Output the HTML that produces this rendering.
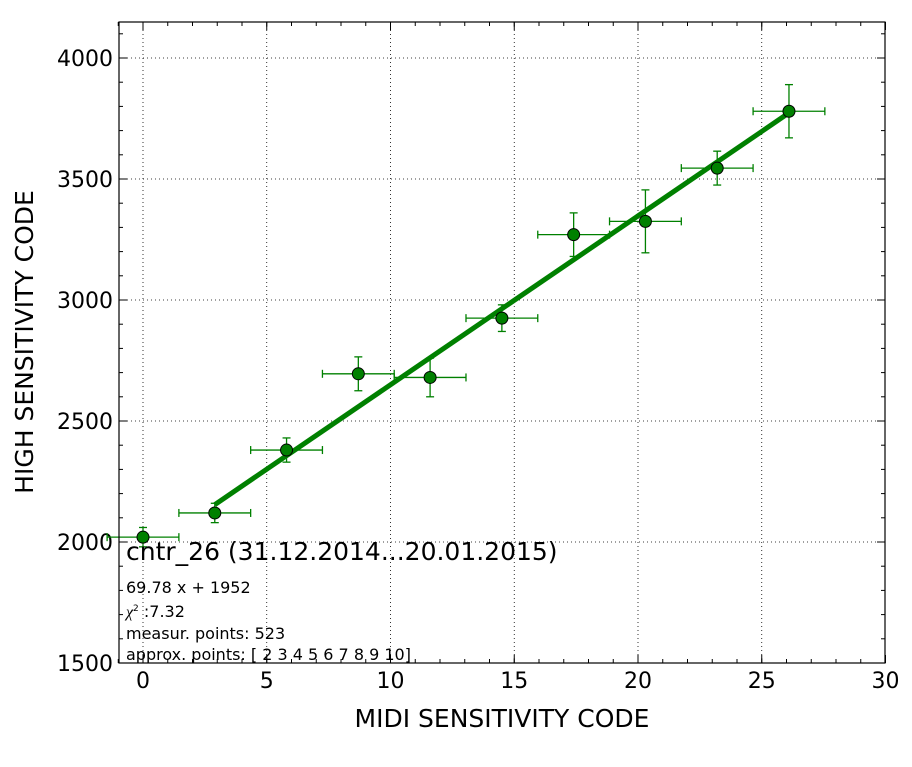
<!DOCTYPE html>
<html><head><meta charset="utf-8"><style>
body{margin:0;background:#fff}
svg{font-family:"DejaVu Sans","Liberation Sans",sans-serif}
</style></head><body>
<svg id="c" width="912" height="762" xmlns="http://www.w3.org/2000/svg">
<rect width="912" height="762" fill="#fff"/>
<g id="grid"></g><g id="ticks"></g><g id="marks"></g>
<rect x="119" y="22" width="766" height="641" fill="none" stroke="#000" stroke-width="1.2"/>
<text x="502" y="727" font-size="25" text-anchor="middle">MIDI SENSITIVITY CODE</text>
<text transform="translate(33,342) rotate(-90)" font-size="25" text-anchor="middle">HIGH SENSITIVITY CODE</text>
<g>
<text x="126" y="560" font-size="25">cntr_26 (31.12.2014...20.01.2015)</text>
<text x="126" y="593" font-size="16">69.78 x + 1952</text>
<text x="126" y="617" font-size="16"><tspan font-family="Liberation Serif" font-style="italic">χ</tspan><tspan font-size="9" dy="-6">2</tspan><tspan dy="6"> :7.32</tspan></text>
<text x="126" y="639" font-size="16">measur. points: 523</text>
<text x="126" y="660" font-size="16">approx. points: [ 2  3  4  5  6  7  8  9 10]</text>
</g>
</svg>
<script>
const xs=[0,2.9,5.8,8.7,11.6,14.5,17.4,20.3,23.2,26.1];
const ys=[2020,2120,2380,2695,2680,2925,3270,3325,3545,3780];
const yerr=[40,40,50,70,80,55,90,130,70,110];
const xerr=[1.45,1.45,1.45,1.45,1.45,1.45,1.45,1.45,1.45,1.45];
const slope=69.78, intercept=1952, fitX=[2.9,26.1];
const xTicks=[0,5,10,15,20,25,30];
const yTicks=[1500,2000,2500,3000,3500,4000];
const X=v=>143+(v-0)*24.75, Y=v=>663-(v-1500)*0.242;
const NS="http://www.w3.org/2000/svg";
function mk(p,t,a){const e=document.createElementNS(NS,t);for(const k in a)e.setAttribute(k,a[k]);p.appendChild(e);return e;}
const grid=document.getElementById('grid'),tk=document.getElementById('ticks'),m=document.getElementById('marks');
xTicks.forEach(v=>{const x=X(v);
 if(v>-1&&v<30){const g=mk(grid,'line',{x1:x,x2:x,y1:22,y2:663,stroke:'#000','stroke-width':0.8,'stroke-dasharray':'1,3'});
 }
 const t=mk(tk,'text',{x:x,y:688,'font-size':22,'text-anchor':'middle'});t.textContent=v;
 
 mk(tk,'line',{x1:x,x2:x,y1:663,y2:655,stroke:'#000'});mk(tk,'line',{x1:x,x2:x,y1:22,y2:30,stroke:'#000'});});
for(let v=-1;v<=30;v++){const x=X(v);mk(tk,'line',{x1:x,x2:x,y1:663,y2:659,stroke:'#000'});mk(tk,'line',{x1:x,x2:x,y1:22,y2:26,stroke:'#000'});}
for(let v=1500;v<=4100;v+=100){const y=Y(v);mk(tk,'line',{x1:119,x2:123,y1:y,y2:y,stroke:'#000'});mk(tk,'line',{x1:885,x2:881,y1:y,y2:y,stroke:'#000'});}
yTicks.forEach(v=>{const y=Y(v);
 if(v>1500){const g=mk(grid,'line',{x1:119,x2:885,y1:y,y2:y,stroke:'#000','stroke-width':0.8,'stroke-dasharray':'1,3'});
 }
 const t=mk(tk,'text',{x:113,y:y+8,'font-size':22,'text-anchor':'end'});t.textContent=v;
 
 mk(tk,'line',{x1:119,x2:127,y1:y,y2:y,stroke:'#000'});mk(tk,'line',{x1:885,x2:877,y1:y,y2:y,stroke:'#000'});});
const fl=mk(m,'line',{x1:X(fitX[0]),y1:Y(slope*fitX[0]+intercept),x2:X(fitX[1]),y2:Y(slope*fitX[1]+intercept),stroke:'#008000','stroke-width':5});

xs.forEach((v,i)=>{const x=X(v),y=Y(ys[i]);const g=mk(m,'g',{stroke:'#008000','stroke-width':1.3});
 
 const x1=X(v-xerr[i]),x2=X(v+xerr[i]),y1=Y(ys[i]+yerr[i]),y2=Y(ys[i]-yerr[i]);
 mk(g,'line',{x1:x1,x2:x2,y1:y,y2:y});mk(g,'line',{x1:x,x2:x,y1:y1,y2:y2});
 mk(g,'line',{x1:x1,x2:x1,y1:y-4,y2:y+4});mk(g,'line',{x1:x2,x2:x2,y1:y-4,y2:y+4});
 mk(g,'line',{x1:x-4,x2:x+4,y1:y1,y2:y1});mk(g,'line',{x1:x-4,x2:x+4,y1:y2,y2:y2});});
xs.forEach((v,i)=>{const c=mk(m,'circle',{cx:X(v),cy:Y(ys[i]),r:6,fill:'#008000',stroke:'#000','stroke-width':1});
 });
</script>
</body></html>
